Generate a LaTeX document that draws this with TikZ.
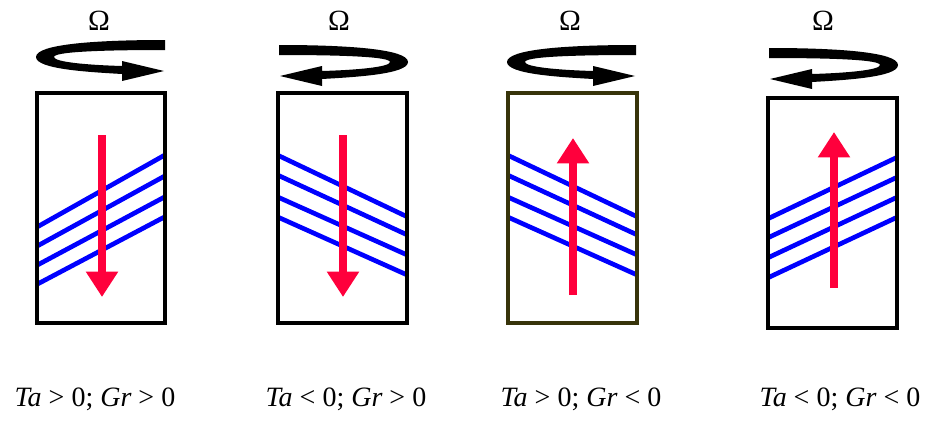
\documentclass[tikz,border=0pt]{standalone}
\usepackage{fontspec}
\setmainfont{Liberation Serif}
\usetikzlibrary{arrows.meta}
\definecolor{flowred}{RGB}{255,0,60}
\definecolor{stripeblue}{RGB}{0,0,255}
\definecolor{olivebox}{RGB}{55,52,10}
\tikzset{
  x=0.75pt, y=-0.75pt,
  boxframe/.style={draw=black, line width=2.5pt},
  stripe/.style={draw=stripeblue, line width=3.5pt},
  flow/.style={draw=flowred, line width=6pt, -{Triangle[width=23pt,length=19pt]}},
  lbl/.style={font=\fontsize{21}{24}\selectfont, inner sep=0pt},
  omg/.style={font=\fontsize{22}{24}\selectfont, inner sep=0pt},
}
\newcommand{\curlshape}{%
  \fill (128,0) .. controls (60,0) and (-1,4) .. (-1,17)
    .. controls (-1,29) and (50,32) .. (85,34) -- (85,41) -- (127,31) -- (85,21) -- (85,26)
    .. controls (50,25) and (17,22) .. (17,17)
    .. controls (17,12) and (60,10) .. (128,10) -- cycle;}
\begin{document}
\begin{tikzpicture}
\useasboundingbox (0,0) rectangle (930,421);

% ---- panel 1
\begin{scope}
  \clip (37,93) rectangle (165,323);
  \draw[stripe] (30,231) -- (172,151);
  \draw[stripe] (30,250) -- (172,172);
  \draw[stripe] (30,269) -- (172,193);
  \draw[stripe] (30,288) -- (172,213);
\end{scope}
\draw[boxframe] (37,93) rectangle (165,323);
\coordinate (f1s) at (102,135); \coordinate (f1e) at (102,297);
\draw[flow] (f1s) -- (f1e);
\begin{scope}[shift={(37,40)}] \curlshape \end{scope}
\node[omg] (o1) at (99,21) {Ω};
\node[lbl] (l1) at (95,399) {\textit{Ta} > 0; \textit{Gr} > 0};

% ---- panel 2
\begin{scope}
  \clip (278,93) rectangle (407,323);
  \draw[stripe] (271,152) -- (414,220);
  \draw[stripe] (271,172) -- (414,238);
  \draw[stripe] (271,194) -- (414,258);
  \draw[stripe] (271,214) -- (414,278);
\end{scope}
\draw[boxframe] (278,93) rectangle (407,323);
\coordinate (f2s) at (343,135); \coordinate (f2e) at (343,297);
\draw[flow] (f2s) -- (f2e);
\begin{scope}[shift={(407,45)}, xscale=-1] \curlshape \end{scope}
\node[omg] (o2) at (339,21) {Ω};
\node[lbl] (l2) at (346,399) {\textit{Ta} < 0; \textit{Gr} > 0};

% ---- panel 3
\begin{scope}
  \clip (508,93) rectangle (637,323);
  \draw[stripe] (501,152) -- (644,220);
  \draw[stripe] (501,172) -- (644,238);
  \draw[stripe] (501,194) -- (644,258);
  \draw[stripe] (501,214) -- (644,278);
\end{scope}
\draw[boxframe, draw=olivebox] (508,93) rectangle (637,323);
\coordinate (f3s) at (573,295); \coordinate (f3e) at (573,138);
\draw[flow] (f3s) -- (f3e);
\begin{scope}[shift={(508,45)}] \curlshape \end{scope}
\node[omg] (o3) at (570,21) {Ω};
\node[lbl] (l3) at (581,399) {\textit{Ta} > 0; \textit{Gr} < 0};

% ---- panel 4
\begin{scope}
  \clip (768,98) rectangle (897,328);
  \draw[stripe] (761,222) -- (904,154);
  \draw[stripe] (761,241) -- (904,174);
  \draw[stripe] (761,261) -- (904,194);
  \draw[stripe] (761,281) -- (904,214);
\end{scope}
\draw[boxframe] (768,98) rectangle (897,328);
\coordinate (f4s) at (834,288); \coordinate (f4e) at (834,132);
\draw[flow] (f4s) -- (f4e);
\begin{scope}[shift={(897,48)}, xscale=-1] \curlshape \end{scope}
\node[omg] (o4) at (823,21) {Ω};
\node[lbl] (l4) at (840,399) {\textit{Ta} < 0; \textit{Gr} < 0};
\end{tikzpicture}
\end{document}
